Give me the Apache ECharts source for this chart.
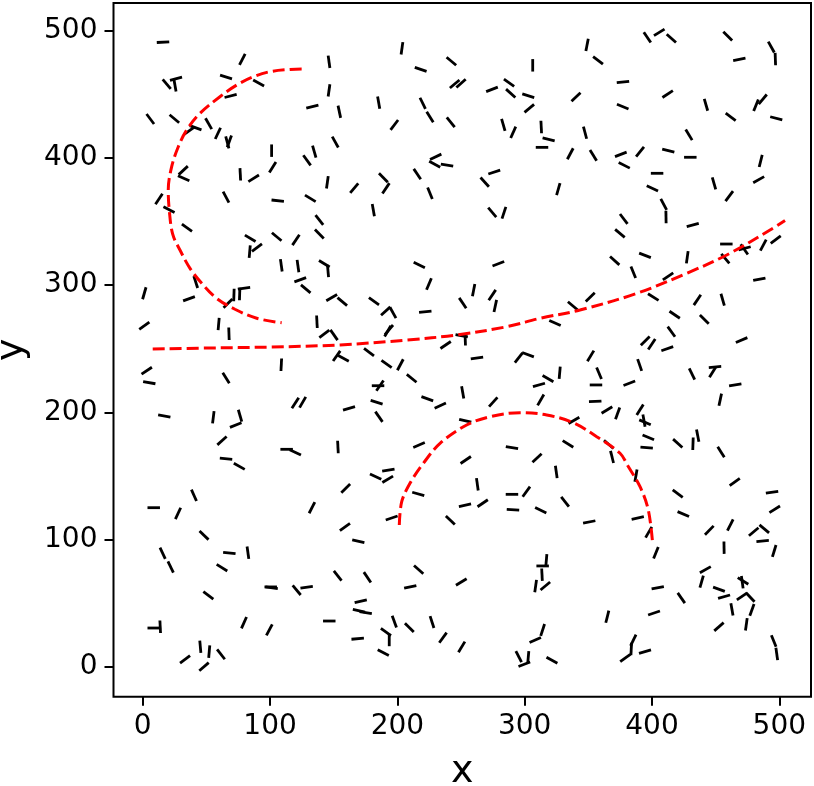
<!DOCTYPE html>
<html>
<head>
<meta charset="utf-8">
<script src="https://cdn.jsdelivr.net/npm/echarts@6/dist/echarts.min.js"></script>
<style>
html,body{margin:0;padding:0;background:#fff;}
#chart{width:814px;height:786px;}
</style>
</head>
<body>
<div id="chart"></div>
<script>
// Needle centres (x, y) and orientation (degrees, counter-clockwise from +x)
var segX = [
15.9,18.8,26.1,25.3,78.2,65.4,91,69,146.3,146.3,133.2,154.4,5.9,24.8,41.5,36.5,51.7,59,66.4,68,101.2,102,87.1,76.6,129,134.7,151.2,145,131.6,106,65.4,31.8,32.1,12.7,20.6,34.7,138.7,138.7,
203.6,218.3,242.4,245,250,274.3,287.7,289,306.3,302.8,303.6,340.3,185.3,219.9,225.6,241.9,197.6,283.2,291,313,318.8,313.6,335.8,230.1,229.3,239,215.6,189,191,166.1,225.6,181.1,276.1,268.6,274.5,283.7,326.4,
396.3,405.7,415.2,349,357.6,459.5,493.7,496.9,468.6,377.2,412.3,377,442.4,481.7,487,461.8,497.6,347.4,429,353.9,375.5,378.2,390.6,412.8,430.1,404,400.3,409.2,411,448.7,460.7,483.8,485.4,377.8,374.8,432,
84.4,84,89.7,105.2,120.3,108.8,121.9,142.6,145.5,123.7,128,148.4,156.7,41.6,36.3,1.2,1.2,71.6,76.1,79.5,66.9,59.6,67.7,136.8,142.6,150.2,152.3,157.5,108.8,3.1,5.1,65.4,119.8,125.6,162,16.9,55.4,76.4,73,62.2,113,119.8,153.3,65.4,75.8,
217.2,279.3,224.8,259.9,274.5,276.9,251.3,181.6,190.8,196.5,221.9,193.4,192.4,250.5,253.3,237.9,177.7,191.5,202.3,211.2,262.5,295.3,302.6,318.3,327.5,311.2,312.6,184.8,186.3,183.7,185.5,223.5,233.7,251.3,275.3,253.3,217,290,253.7,309.7,334,338.7,337.7,323.8,192.9,
458.4,472.5,472.8,487.4,497.2,457.6,370.7,394.5,427.7,385.3,412.6,484.3,401,351.5,435.6,455.5,417.8,441.1,415.2,394.7,399.8,412,470.4,351.8,358.4,390.3,431.4,447.7,449.5,356,382.2,465.4,355.4,453.6,364.6,373,390.6,394.5,393.7,397.1,395.8,420.2,432.2,435.9,454.2,366,368.6,
8.6,40.2,27.7,48.1,15.6,21.9,68,82.6,62.2,51.5,79.5,8.6,13.7,45.2,52.2,61.4,33.2,48.1,101.2,100.5,120.9,128.7,146.5,99.4,153.1,132.9,159.4,158.8,
182.9,192.4,216.4,195.5,169.3,262.8,253.1,267,241.6,290,301.3,290.8,312.6,324.8,331.7,216.7,210.1,250.2,176.4,171.2,169.8,175.1,197.6,209.4,191,193.6,168.8,188.9,227.2,235.8,250.5,317,314.1,313.6,308.6,316.2,314.1,308.3,295.3,302.8,299.7,321.4,
387.4,465,420.2,494.3,496.4,424.6,350.7,388.8,397.4,445,461.5,479.9,488.2,486.9,456.6,496,403.1,441.9,439,404.5,423,452.6,456.6,471.5,470.9,470.7,477.2,478.5,462.8,474.1,452.6,401.6,364.9,385.3,379,383.7,394.5,495.6,498
];
var segY = [
491,458,462.3,457.1,477.5,463.6,458.9,448.7,475.6,453.1,440.3,436.3,430.6,430.8,423.7,421.4,426.9,419.3,412.2,413,405.7,392.6,384,387.1,398.1,404.9,412.5,380.8,368.2,366.4,369.2,390.2,384,367.7,359.3,345.1,351.2,340.2,
486.2,469.6,476,458.1,458.6,453.9,459.1,450.8,472.8,448.9,439,447.9,443.4,442.9,432.2,428,425.9,425.9,420.1,424.3,414.6,408.3,403.3,400.9,395,394.4,387.3,384.4,376.1,376.3,372.2,359,388.9,381,357.2,356.9,375.5,
494.8,498.7,494,488.8,476.7,495.8,487.2,477.7,477.5,459.7,450.2,440.3,441.8,441.4,446.1,432.2,431.1,419.8,418.2,402,402.8,394.2,404.9,405.7,400.5,387.9,376.1,363.5,353.5,380,370,382.9,397.6,352,340.7,347.2,
336.8,326.3,329.4,338,335.5,315.6,315,316.8,311.1,304.2,297,290.1,287,302.4,289.3,293.6,268.1,292.2,293,297.5,285.7,269.4,261.8,271.2,261.6,260.8,244.3,242.5,237.4,232.7,223.3,227,207.3,207.9,203.1,197.1,196.1,197.3,190,177.7,170.9,168.5,172.7,163.5,157.5,
315.8,316.8,300.9,296.1,292.2,283.6,285.9,287.3,279.6,278.3,279.1,264.9,263.8,260.2,257.4,252.9,247.4,238,237.4,226.7,242.7,242.9,245.3,226.5,231.1,221.5,209.7,220.9,221,207.9,196.5,210.7,205.2,215.7,208.1,193.4,174.3,172.2,162.5,164.1,175.1,193.7,283.8,270.2,154.6,
332.3,328.1,328.9,331.5,335.7,320.8,319.2,323.4,321.9,310.1,306.9,304.6,290.6,290.6,288.3,288.5,276.7,273.1,263.4,256.1,253.5,250,256.8,244.3,230.7,237.2,230.1,231.7,235.6,221.5,222.8,221.5,208.6,209.9,201.8,199.2,202,192.1,193.4,180.3,172.2,175.6,175.3,181.6,168.8,174.8,164.9,
125,134.7,120.5,103.3,89.2,78.4,89.4,89.6,77.8,56.1,34.6,30.4,31.4,15.7,11.8,9.7,5.8,0,62.1,62.7,60.1,62.4,35.9,28.9,71.5,125,140.2,109.8,
149.4,147.3,135.8,116.9,98.6,143.4,126.9,128.5,115.1,135.5,137.6,123.4,123,153.1,129.7,76.3,62.7,66.6,70.3,51.4,44,42.5,35.4,30.7,27.3,21,22,11,35.1,22.8,15.5,83.6,79.2,72.3,63.4,63.4,28.9,21,7.9,7.4,1.9,5,
150.2,145.2,136,137.1,123.7,120,113.8,116.9,105.7,107.2,111.4,106.1,108.3,98.8,93.6,91,89.6,76.3,66.8,62.1,54,60.9,55,67.4,66.4,55.3,54.6,44.6,45.1,33.3,31.4,42.2,39.3,20.8,6.8,13.9,11.8,20.2,10
];
var segAngle = [
3,-50,15,-80,63,-17,-29,14,-82,82,14,-78,-53,-40,-20,35,-60,65,-75,70,90,58,32,-87,-54,-74,-61,82,-31,-6,-62,43,-24,56,-27,-36,-52,-45,
82,-19,-40,40,42,21,-35,-42,90,-17,40,44,-80,-64,-58,-51,53,-74,66,-87,-14,0,62,25,-28,-9,-56,-45,56,50,-68,-80,18,-48,-50,72,74,
-56,32,-42,79,-38,-45,-61,-88,11,6,33,-22,-74,68,50,-37,-15,-75,-59,-58,21,-27,51,-14,0,0,-25,-62,-89,-74,53,29,76,-53,-40,15,
-31,85,37,-40,56,-82,-82,-31,-85,20,-40,30,-40,-72,20,74,36,88,88,8,45,85,-88,-87,37,-55,55,-28,87,34,-10,-58,57,60,16,-11,83,-74,22,42,0,-25,-87,-6,-29,
-26,21,67,79,56,78,-56,-36,42,-61,6,50,60,-10,-88,34,-37,-35,62,-39,8,52,-20,-30,85,16,60,0,55,-17,-55,-20,25,-80,48,-13,23,-10,34,43,-32,30,-40,-24,9,
0,-55,15,62,37,-50,-42,-21,82,-68,34,11,-32,44,56,-74,-34,-45,-54,45,56,19,23,59,-67,-71,-64,58,5,0,21,9,3,78,31,70,58,-23,-80,-23,-5,-42,88,-79,-58,-41,-76,
0,-66,65,-44,-65,-64,-6,-82,-32,-37,66,0,-87,-85,85,-52,37,41,-8,0,-50,8,0,62,-52,63,45,36,
-25,31,-16,19,-13,-82,13,34,-44,0,54,-3,-26,-82,-52,-42,12,31,-56,13,-12,-10,-70,-45,-36,90,5,-27,-72,54,59,85,0,-87,82,40,72,24,-63,85,21,-29,
80,36,-37,8,32,-23,11,12,60,46,63,40,-40,6,-89,73,68,29,74,11,-55,-20,16,-32,-82,34,-47,70,-80,82,41,19,76,64,36,87,16,-68,-82
];
var needleLength = 9.8;

// Red dashed curves
var arcAX = [124.8,115.6,99.9,86.8,73.8,60.6,44.9,34.5,27.9,22.7,20,20.8,23.5,29.2,37.1,46.3,58,72.4,89.5,109.1];
var arcAY = [469.9,469.6,467.8,463.8,457.3,448.1,435,422,408.8,393.1,374.8,359,340,327.6,313.2,301.4,289.6,281,273.9,270.4];
var curveBX = [7.8,50,100,155,207.3,246.6,285.9,312,343.4,388,427.3,458.7,492.7,504.5];
var curveBY = [249.8,250.5,251.3,253,256.8,260.8,267.3,273.9,280.4,293.5,309.3,323.7,343.3,350.8];
var arcCX = [201.5,203.4,209.9,220.4,233.5,254.4,272.7,296.3,317.3,338.2,356.6,374.9,381,390.6,397.1,400.5];
var arcCY = [111.4,129.7,144.2,159.9,175.6,190,196.5,199.7,197.9,191.8,180.8,167.8,158,141.5,123.2,97];

var tickValues = [0,100,200,300,400,500];

function pairs(xs, ys){ var out=[]; for(var i=0;i<xs.length;i++) out.push([xs[i], ys[i]]); return out; }
var needles = [];
for (var i=0;i<segX.length;i++) needles.push([segX[i], segY[i], segAngle[i]]);

var chart = echarts.init(document.getElementById('chart'), null, {renderer:'canvas'});
var font = 'DejaVu Sans';
var redLine = {type:'line', smooth:0.35, showSymbol:false, symbol:'none', silent:true, z:5,
  lineStyle:{color:'#ff0000', width:3, type:[12,5]}};

chart.setOption({
  animation:false,
  backgroundColor:'#ffffff',
  grid:{left:113.5, top:3, width:697.5, height:693.7, show:true, borderColor:'#000', borderWidth:2,
    backgroundColor:'transparent', containLabel:false, outerBoundsMode:'none'},
  xAxis:{type:'value', min:-23, max:524.9,
    name:'x', nameLocation:'middle', nameGap:56, nameTextStyle:{fontFamily:font, fontSize:38, color:'#000'},
    axisLine:{show:false, onZero:false}, splitLine:{show:false},
    axisTick:{show:true, inside:false, customValues:tickValues, length:9, lineStyle:{color:'#000', width:2}},
    axisLabel:{customValues:tickValues, fontFamily:font, fontSize:28, color:'#000', margin:16}},
  yAxis:{type:'value', min:-23.6, max:521.8,
    name:'y', nameLocation:'middle', nameGap:82, nameRotate:90, nameTextStyle:{fontFamily:font, fontSize:38, color:'#000'},
    axisLine:{show:false, onZero:false}, splitLine:{show:false},
    axisTick:{show:true, inside:false, customValues:tickValues, length:9, lineStyle:{color:'#000', width:2}},
    axisLabel:{customValues:tickValues, fontFamily:font, fontSize:28, color:'#000', margin:16}},
  series:[
    {type:'custom', data:needles, silent:true, z:3,
      renderItem:function(params, api){
        var x=api.value(0), y=api.value(1), a=api.value(2)*Math.PI/180;
        var h=needleLength/2, dx=h*Math.cos(a), dy=h*Math.sin(a);
        var p1=api.coord([x-dx, y-dy]), p2=api.coord([x+dx, y+dy]);
        return {type:'line', shape:{x1:p1[0], y1:p1[1], x2:p2[0], y2:p2[1]},
          style:{stroke:'#000', lineWidth:2.8, lineCap:'butt'}};
      }},
    Object.assign({data:pairs(arcAX, arcAY)}, redLine),
    Object.assign({data:pairs(curveBX, curveBY)}, redLine),
    Object.assign({data:pairs(arcCX, arcCY)}, redLine)
  ]
});
</script>
</body>
</html>
